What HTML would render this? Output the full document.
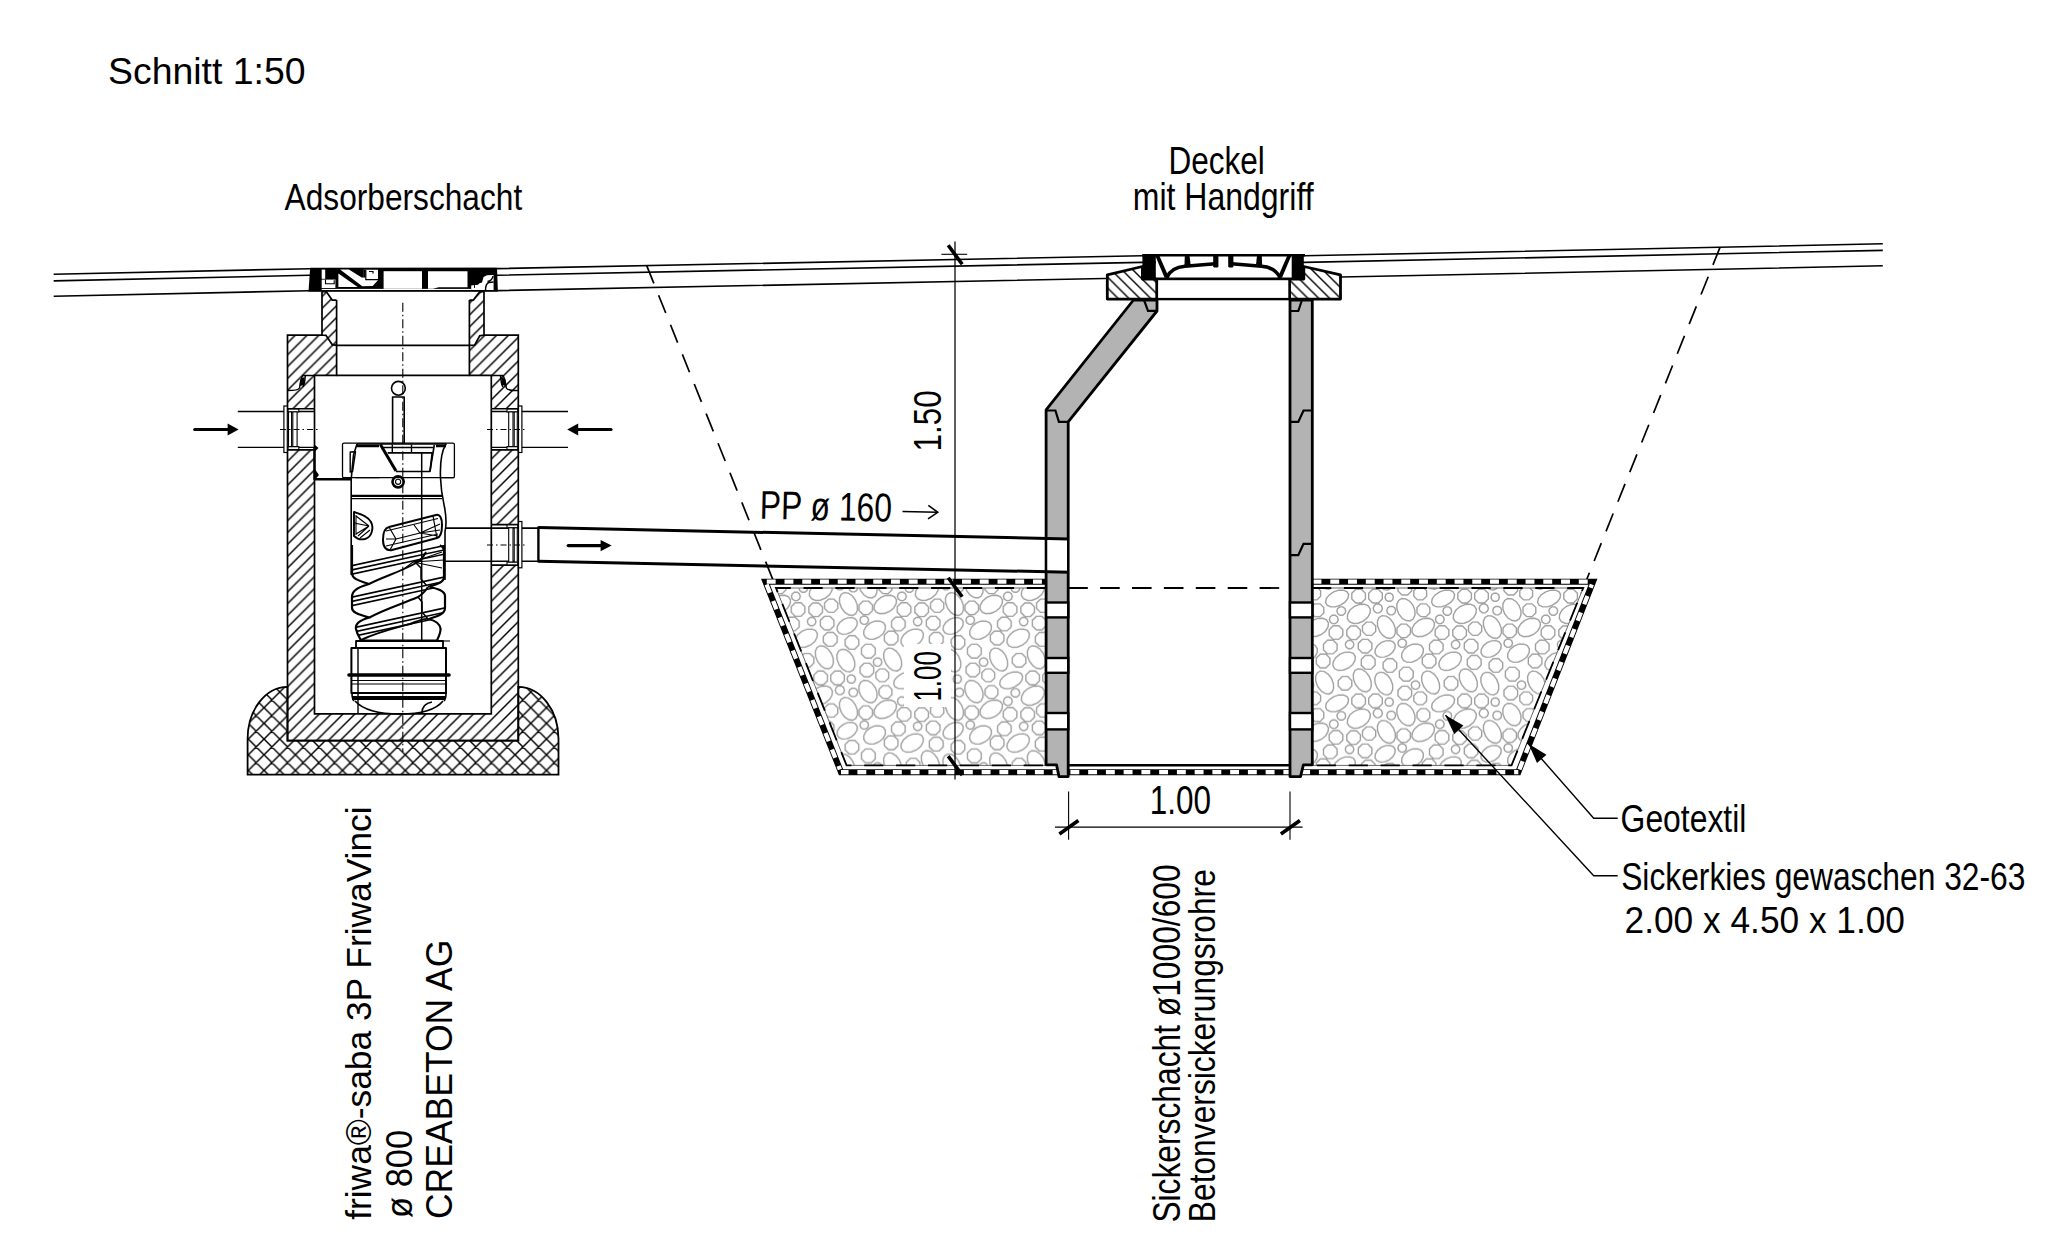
<!DOCTYPE html>
<html><head><meta charset="utf-8"><title>Schnitt 1:50</title>
<style>html,body{margin:0;padding:0;background:#fff;}svg{display:block;}text{font-family:"Liberation Sans",sans-serif;}</style>
</head><body>
<svg xmlns="http://www.w3.org/2000/svg" width="#fff" height="1255" viewBox="0 0 #fff 1255">
<rect width="#fff" height="1255" fill="#fff"/>
<defs>
<pattern id="h45" patternUnits="userSpaceOnUse" width="11.85" height="11.85" patternTransform="translate(2.4 0)"><path d="M-24.70,12.85 L1.00,-12.85 M-12.85,12.85 L12.85,-12.85 M-1.00,12.85 L24.70,-12.85 M10.85,12.85 L36.55,-12.85 " stroke="#000" stroke-width="1.45"/></pattern>
<pattern id="hx" patternUnits="userSpaceOnUse" width="15.69" height="15.69" patternTransform="translate(13.0 1.63)"><path d="M-32.38,16.69 L1.00,-16.69 M-32.38,-16.69 L1.00,16.69 M-16.69,16.69 L16.69,-16.69 M-16.69,-16.69 L16.69,16.69 M-1.00,16.69 L32.38,-16.69 M-1.00,-16.69 L32.38,16.69 M14.69,16.69 L48.07,-16.69 M14.69,-16.69 L48.07,16.69 " stroke="#000" stroke-width="1.4"/></pattern>
<pattern id="hb" patternUnits="userSpaceOnUse" width="10.84" height="10.84" patternTransform="translate(6.7 0)"><path d="M-22.68,-11.84 L1.00,11.84 M-11.84,-11.84 L11.84,11.84 M-1.00,-11.84 L22.68,11.84 M9.84,-11.84 L33.52,11.84 " stroke="#000" stroke-width="1.4"/></pattern>
<pattern id="hb2" patternUnits="userSpaceOnUse" width="10.84" height="10.84" patternTransform="translate(1.5 0)"><path d="M-22.68,-11.84 L1.00,11.84 M-11.84,-11.84 L11.84,11.84 M-1.00,-11.84 L22.68,11.84 M9.84,-11.84 L33.52,11.84 " stroke="#000" stroke-width="1.4"/></pattern>
</defs>
<g transform="rotate(1.26 759.6 518.8)">
<line x1="902.3" y1="508.4" x2="937.0" y2="508.4" stroke="#000" stroke-width="1.6" />
<path d="M928.0,501.6 L937.6,508.4 L928.0,515.2" fill="none" stroke="#000" stroke-width="1.6" />
</g>
<path d="M53.7,274.3 L309.0,268.7 L497.0,268.6 L1142.0,255.8 L1304.0,255.8 L1882.8,243.8" fill="none" stroke="#000" stroke-width="1.6" />
<path d="M53.7,280.9 L309.0,275.3 L497.0,275.2 L1142.0,262.4 L1304.0,262.4 L1882.8,250.4" fill="none" stroke="#000" stroke-width="1.6" />
<path d="M53.7,296.3 L309.0,290.7 L497.0,290.6 L1142.0,277.8 L1304.0,277.8 L1882.8,265.8" fill="none" stroke="#000" stroke-width="1.6" />
<line x1="646.7" y1="265.6" x2="773.0" y2="580.0" stroke="#000" stroke-width="1.7" stroke-dasharray="19.2 12.7"/>
<line x1="1720.1" y1="247.1" x2="1586.5" y2="580.0" stroke="#000" stroke-width="1.7" stroke-dasharray="19.2 12.7"/>
<defs><pattern id="kies" patternUnits="userSpaceOnUse" x="1315.0" y="590.0" width="106.0" height="104.8"><path d="M33.6,4.7 L32.9,8.4 L30.0,12.1 L25.5,15.1 L20.4,16.8 L15.6,16.8 L12.1,15.2 L10.6,12.3 L11.3,8.6 L14.2,4.9 L18.7,1.9 L23.8,0.2 L28.6,0.2 L32.1,1.8ZM33.6,109.5 L32.9,113.2 L30.0,116.9 L25.5,119.9 L20.4,121.6 L15.6,121.6 L12.1,120.0 L10.6,117.1 L11.3,113.4 L14.2,109.7 L18.7,106.7 L23.8,105.0 L28.6,105.0 L32.1,106.6ZM50.4,8.9 L46.4,12.9 L40.8,12.9 L36.8,8.9 L36.8,3.3 L40.8,-0.7 L46.4,-0.7 L50.4,3.3ZM50.4,113.7 L46.4,117.7 L40.8,117.7 L36.8,113.7 L36.8,108.1 L40.8,104.1 L46.4,104.1 L50.4,108.1ZM67.3,8.9 L63.3,12.9 L57.7,12.9 L53.7,8.9 L53.7,3.3 L57.7,-0.7 L63.3,-0.7 L67.3,3.3ZM67.3,113.7 L63.3,117.7 L57.7,117.7 L53.7,113.7 L53.7,108.1 L57.7,104.1 L63.3,104.1 L67.3,108.1ZM78.4,7.2 L77.6,9.7 L75.5,11.2 L72.9,11.2 L70.8,9.7 L70.0,7.2 L70.8,4.7 L72.9,3.2 L75.5,3.2 L77.6,4.7ZM5.6,6.2 L1.9,9.9 L-3.5,9.9 L-7.2,6.2 L-7.2,0.8 L-3.5,-2.9 L1.9,-2.9 L5.6,0.8ZM5.6,111.0 L1.9,114.7 L-3.5,114.7 L-7.2,111.0 L-7.2,105.6 L-3.5,101.9 L1.9,101.9 L5.6,105.6ZM111.6,6.2 L107.9,9.9 L102.5,9.9 L98.8,6.2 L98.8,0.8 L102.5,-2.9 L107.9,-2.9 L111.6,0.8ZM111.6,111.0 L107.9,114.7 L102.5,114.7 L98.8,111.0 L98.8,105.6 L102.5,101.9 L107.9,101.9 L111.6,105.6ZM8.8,22.9 L5.1,26.6 L-0.3,26.6 L-4.0,22.9 L-4.0,17.5 L-0.3,13.8 L5.1,13.8 L8.8,17.5ZM114.8,22.9 L111.1,26.6 L105.7,26.6 L102.0,22.9 L102.0,17.5 L105.7,13.8 L111.1,13.8 L114.8,17.5ZM55.3,19.2 L55.0,23.3 L52.6,27.6 L48.4,31.1 L43.3,33.2 L38.3,33.4 L34.4,31.7 L32.3,28.4 L32.6,24.3 L35.0,20.0 L39.2,16.5 L44.3,14.4 L49.3,14.2 L53.2,15.9ZM30.7,21.0 L29.9,23.6 L27.7,25.2 L24.9,25.2 L22.7,23.6 L21.9,21.0 L22.7,18.4 L24.9,16.8 L27.7,16.8 L29.9,18.4ZM67.4,18.4 L66.5,21.1 L64.2,22.8 L61.4,22.8 L59.1,21.1 L58.2,18.4 L59.1,15.7 L61.4,14.0 L64.2,14.0 L66.5,15.7ZM80.6,20.6 L79.8,23.2 L77.6,24.8 L74.8,24.8 L72.6,23.2 L71.8,20.6 L72.6,18.0 L74.8,16.4 L77.6,16.4 L79.8,18.0ZM95.0,30.9 L91.0,30.5 L86.9,28.0 L83.7,23.9 L81.9,18.9 L81.9,14.1 L83.6,10.4 L86.8,8.5 L90.8,8.9 L94.9,11.4 L98.1,15.5 L99.9,20.5 L99.9,25.3 L98.2,29.0ZM23.2,29.4 L22.4,32.0 L20.2,33.6 L17.4,33.6 L15.2,32.0 L14.4,29.4 L15.2,26.8 L17.4,25.2 L20.2,25.2 L22.4,26.8ZM13.4,32.8 L13.1,36.8 L10.7,40.9 L6.6,44.4 L1.6,46.4 L-3.3,46.6 L-7.0,45.1 L-9.0,42.0 L-8.7,38.0 L-6.3,33.9 L-2.2,30.4 L2.8,28.4 L7.7,28.2 L11.4,29.7ZM119.4,32.8 L119.1,36.8 L116.7,40.9 L112.6,44.4 L107.6,46.4 L102.7,46.6 L99.0,45.1 L97.0,42.0 L97.3,38.0 L99.7,33.9 L103.8,30.4 L108.8,28.4 L113.7,28.2 L117.4,29.7ZM27.8,45.3 L23.8,49.3 L18.2,49.3 L14.2,45.3 L14.2,39.7 L18.2,35.7 L23.8,35.7 L27.8,39.7ZM45.4,45.5 L41.4,49.5 L35.8,49.5 L31.8,45.5 L31.8,39.9 L35.8,35.9 L41.4,35.9 L45.4,39.9ZM60.7,41.4 L56.8,45.3 L51.4,45.3 L47.5,41.4 L47.5,36.0 L51.4,32.1 L56.8,32.1 L60.7,36.0ZM75.7,48.4 L71.7,47.9 L67.7,45.3 L64.5,41.0 L62.6,36.0 L62.4,31.1 L64.1,27.4 L67.1,25.6 L71.1,26.1 L75.1,28.7 L78.3,33.0 L80.2,38.0 L80.4,42.9 L78.7,46.6ZM95.4,43.6 L91.5,47.5 L85.9,47.5 L82.0,43.6 L82.0,38.0 L85.9,34.1 L91.5,34.1 L95.4,38.0ZM22.1,59.8 L18.1,63.8 L12.5,63.8 L8.5,59.8 L8.5,54.2 L12.5,50.2 L18.1,50.2 L22.1,54.2ZM38.9,54.5 L38.1,57.0 L35.9,58.6 L33.3,58.6 L31.1,57.0 L30.3,54.5 L31.1,52.0 L33.3,50.4 L35.9,50.4 L38.1,52.0ZM56.9,58.9 L52.9,62.9 L47.3,62.9 L43.3,58.9 L43.3,53.3 L47.3,49.3 L52.9,49.3 L56.9,53.3ZM80.2,54.8 L79.9,58.4 L77.7,62.1 L74.0,65.2 L69.5,67.0 L65.2,67.2 L61.8,65.8 L60.0,63.0 L60.3,59.4 L62.5,55.7 L66.2,52.6 L70.7,50.8 L75.0,50.6 L78.4,52.0ZM91.5,53.2 L90.7,55.7 L88.5,57.3 L85.9,57.3 L83.7,55.7 L82.9,53.2 L83.7,50.7 L85.9,49.1 L88.5,49.1 L90.7,50.7ZM2.3,58.7 L2.2,62.7 L-0.1,66.8 L-4.1,70.1 L-8.9,72.1 L-13.7,72.2 L-17.4,70.6 L-19.3,67.5 L-19.2,63.5 L-16.9,59.4 L-12.9,56.1 L-8.1,54.1 L-3.3,54.0 L0.4,55.6ZM108.3,58.7 L108.2,62.7 L105.9,66.8 L101.9,70.1 L97.1,72.1 L92.3,72.2 L88.6,70.6 L86.7,67.5 L86.8,63.5 L89.1,59.4 L93.1,56.1 L97.9,54.1 L102.7,54.0 L106.4,55.6ZM14.9,73.8 L10.9,77.8 L5.3,77.8 L1.3,73.8 L1.3,68.2 L5.3,64.2 L10.9,64.2 L14.9,68.2ZM120.9,73.8 L116.9,77.8 L111.3,77.8 L107.3,73.8 L107.3,68.2 L111.3,64.2 L116.9,64.2 L120.9,68.2ZM40.3,66.6 L40.0,70.5 L37.6,74.6 L33.4,78.1 L28.4,80.1 L23.5,80.4 L19.8,78.9 L17.9,75.8 L18.2,71.9 L20.6,67.8 L24.8,64.3 L29.8,62.3 L34.7,62.0 L38.4,63.5ZM60.1,75.2 L56.1,79.2 L50.3,79.2 L46.3,75.2 L46.3,69.4 L50.3,65.4 L56.1,65.4 L60.1,69.4ZM81.7,78.2 L77.7,82.2 L72.1,82.2 L68.1,78.2 L68.1,72.6 L72.1,68.6 L77.7,68.6 L81.7,72.6ZM98.2,87.0 L94.2,91.0 L88.4,91.0 L84.4,87.0 L84.4,81.2 L88.4,77.2 L94.2,77.2 L98.2,81.2ZM13.9,-0.8 L10.0,-1.3 L6.0,-4.0 L2.7,-8.3 L0.8,-13.4 L0.6,-18.3 L2.2,-22.0 L5.3,-23.8 L9.2,-23.3 L13.2,-20.6 L16.5,-16.3 L18.4,-11.2 L18.6,-6.3 L17.0,-2.6ZM13.9,104.0 L10.0,103.5 L6.0,100.8 L2.7,96.5 L0.8,91.4 L0.6,86.5 L2.2,82.8 L5.3,81.0 L9.2,81.5 L13.2,84.2 L16.5,88.5 L18.4,93.6 L18.6,98.5 L17.0,102.2ZM119.9,-0.8 L116.0,-1.3 L112.0,-4.0 L108.7,-8.3 L106.8,-13.4 L106.6,-18.3 L108.2,-22.0 L111.3,-23.8 L115.2,-23.3 L119.2,-20.6 L122.5,-16.3 L124.4,-11.2 L124.6,-6.3 L123.0,-2.6ZM119.9,104.0 L116.0,103.5 L112.0,100.8 L108.7,96.5 L106.8,91.4 L106.6,86.5 L108.2,82.8 L111.3,81.0 L115.2,81.5 L119.2,84.2 L122.5,88.5 L124.4,93.6 L124.6,98.5 L123.0,102.2ZM36.8,96.1 L32.8,100.1 L27.2,100.1 L23.2,96.1 L23.2,90.5 L27.2,86.5 L32.8,86.5 L36.8,90.5ZM51.6,101.8 L47.7,101.3 L43.7,98.6 L40.4,94.3 L38.5,89.2 L38.3,84.3 L39.9,80.6 L43.0,78.8 L46.9,79.3 L50.9,82.0 L54.2,86.3 L56.1,91.4 L56.3,96.3 L54.7,100.0ZM73.0,0.0 L69.1,-0.4 L65.1,-3.0 L61.9,-7.3 L60.0,-12.3 L59.9,-17.1 L61.5,-20.8 L64.6,-22.6 L68.5,-22.2 L72.5,-19.6 L75.7,-15.3 L77.6,-10.3 L77.7,-5.5 L76.1,-1.8ZM73.0,104.8 L69.1,104.4 L65.1,101.8 L61.9,97.5 L60.0,92.5 L59.9,87.7 L61.5,84.0 L64.6,82.2 L68.5,82.6 L72.5,85.2 L75.7,89.5 L77.6,94.5 L77.7,99.3 L76.1,103.0ZM-1.2,95.1 L-2.0,97.6 L-4.2,99.2 L-6.8,99.2 L-9.0,97.6 L-9.8,95.1 L-9.0,92.6 L-6.8,91.0 L-4.2,91.0 L-2.0,92.6ZM104.8,95.1 L104.0,97.6 L101.8,99.2 L99.2,99.2 L97.0,97.6 L96.2,95.1 L97.0,92.6 L99.2,91.0 L101.8,91.0 L104.0,92.6ZM96.6,1.0 L92.6,5.0 L87.0,5.0 L83.0,1.0 L83.0,-4.6 L87.0,-8.6 L92.6,-8.6 L96.6,-4.6ZM96.6,105.8 L92.6,109.8 L87.0,109.8 L83.0,105.8 L83.0,100.2 L87.0,96.2 L92.6,96.2 L96.6,100.2Z" fill="none" stroke="#a0a0a0" stroke-width="1.4"/></pattern><pattern id="kies2" patternUnits="userSpaceOnUse" x="1307.1" y="567.0" width="106.0" height="104.8"><path d="M33.6,4.7 L32.9,8.4 L30.0,12.1 L25.5,15.1 L20.4,16.8 L15.6,16.8 L12.1,15.2 L10.6,12.3 L11.3,8.6 L14.2,4.9 L18.7,1.9 L23.8,0.2 L28.6,0.2 L32.1,1.8ZM33.6,109.5 L32.9,113.2 L30.0,116.9 L25.5,119.9 L20.4,121.6 L15.6,121.6 L12.1,120.0 L10.6,117.1 L11.3,113.4 L14.2,109.7 L18.7,106.7 L23.8,105.0 L28.6,105.0 L32.1,106.6ZM50.4,8.9 L46.4,12.9 L40.8,12.9 L36.8,8.9 L36.8,3.3 L40.8,-0.7 L46.4,-0.7 L50.4,3.3ZM50.4,113.7 L46.4,117.7 L40.8,117.7 L36.8,113.7 L36.8,108.1 L40.8,104.1 L46.4,104.1 L50.4,108.1ZM67.3,8.9 L63.3,12.9 L57.7,12.9 L53.7,8.9 L53.7,3.3 L57.7,-0.7 L63.3,-0.7 L67.3,3.3ZM67.3,113.7 L63.3,117.7 L57.7,117.7 L53.7,113.7 L53.7,108.1 L57.7,104.1 L63.3,104.1 L67.3,108.1ZM78.4,7.2 L77.6,9.7 L75.5,11.2 L72.9,11.2 L70.8,9.7 L70.0,7.2 L70.8,4.7 L72.9,3.2 L75.5,3.2 L77.6,4.7ZM5.6,6.2 L1.9,9.9 L-3.5,9.9 L-7.2,6.2 L-7.2,0.8 L-3.5,-2.9 L1.9,-2.9 L5.6,0.8ZM5.6,111.0 L1.9,114.7 L-3.5,114.7 L-7.2,111.0 L-7.2,105.6 L-3.5,101.9 L1.9,101.9 L5.6,105.6ZM111.6,6.2 L107.9,9.9 L102.5,9.9 L98.8,6.2 L98.8,0.8 L102.5,-2.9 L107.9,-2.9 L111.6,0.8ZM111.6,111.0 L107.9,114.7 L102.5,114.7 L98.8,111.0 L98.8,105.6 L102.5,101.9 L107.9,101.9 L111.6,105.6ZM8.8,22.9 L5.1,26.6 L-0.3,26.6 L-4.0,22.9 L-4.0,17.5 L-0.3,13.8 L5.1,13.8 L8.8,17.5ZM114.8,22.9 L111.1,26.6 L105.7,26.6 L102.0,22.9 L102.0,17.5 L105.7,13.8 L111.1,13.8 L114.8,17.5ZM55.3,19.2 L55.0,23.3 L52.6,27.6 L48.4,31.1 L43.3,33.2 L38.3,33.4 L34.4,31.7 L32.3,28.4 L32.6,24.3 L35.0,20.0 L39.2,16.5 L44.3,14.4 L49.3,14.2 L53.2,15.9ZM30.7,21.0 L29.9,23.6 L27.7,25.2 L24.9,25.2 L22.7,23.6 L21.9,21.0 L22.7,18.4 L24.9,16.8 L27.7,16.8 L29.9,18.4ZM67.4,18.4 L66.5,21.1 L64.2,22.8 L61.4,22.8 L59.1,21.1 L58.2,18.4 L59.1,15.7 L61.4,14.0 L64.2,14.0 L66.5,15.7ZM80.6,20.6 L79.8,23.2 L77.6,24.8 L74.8,24.8 L72.6,23.2 L71.8,20.6 L72.6,18.0 L74.8,16.4 L77.6,16.4 L79.8,18.0ZM95.0,30.9 L91.0,30.5 L86.9,28.0 L83.7,23.9 L81.9,18.9 L81.9,14.1 L83.6,10.4 L86.8,8.5 L90.8,8.9 L94.9,11.4 L98.1,15.5 L99.9,20.5 L99.9,25.3 L98.2,29.0ZM23.2,29.4 L22.4,32.0 L20.2,33.6 L17.4,33.6 L15.2,32.0 L14.4,29.4 L15.2,26.8 L17.4,25.2 L20.2,25.2 L22.4,26.8ZM13.4,32.8 L13.1,36.8 L10.7,40.9 L6.6,44.4 L1.6,46.4 L-3.3,46.6 L-7.0,45.1 L-9.0,42.0 L-8.7,38.0 L-6.3,33.9 L-2.2,30.4 L2.8,28.4 L7.7,28.2 L11.4,29.7ZM119.4,32.8 L119.1,36.8 L116.7,40.9 L112.6,44.4 L107.6,46.4 L102.7,46.6 L99.0,45.1 L97.0,42.0 L97.3,38.0 L99.7,33.9 L103.8,30.4 L108.8,28.4 L113.7,28.2 L117.4,29.7ZM27.8,45.3 L23.8,49.3 L18.2,49.3 L14.2,45.3 L14.2,39.7 L18.2,35.7 L23.8,35.7 L27.8,39.7ZM45.4,45.5 L41.4,49.5 L35.8,49.5 L31.8,45.5 L31.8,39.9 L35.8,35.9 L41.4,35.9 L45.4,39.9ZM60.7,41.4 L56.8,45.3 L51.4,45.3 L47.5,41.4 L47.5,36.0 L51.4,32.1 L56.8,32.1 L60.7,36.0ZM75.7,48.4 L71.7,47.9 L67.7,45.3 L64.5,41.0 L62.6,36.0 L62.4,31.1 L64.1,27.4 L67.1,25.6 L71.1,26.1 L75.1,28.7 L78.3,33.0 L80.2,38.0 L80.4,42.9 L78.7,46.6ZM95.4,43.6 L91.5,47.5 L85.9,47.5 L82.0,43.6 L82.0,38.0 L85.9,34.1 L91.5,34.1 L95.4,38.0ZM22.1,59.8 L18.1,63.8 L12.5,63.8 L8.5,59.8 L8.5,54.2 L12.5,50.2 L18.1,50.2 L22.1,54.2ZM38.9,54.5 L38.1,57.0 L35.9,58.6 L33.3,58.6 L31.1,57.0 L30.3,54.5 L31.1,52.0 L33.3,50.4 L35.9,50.4 L38.1,52.0ZM56.9,58.9 L52.9,62.9 L47.3,62.9 L43.3,58.9 L43.3,53.3 L47.3,49.3 L52.9,49.3 L56.9,53.3ZM80.2,54.8 L79.9,58.4 L77.7,62.1 L74.0,65.2 L69.5,67.0 L65.2,67.2 L61.8,65.8 L60.0,63.0 L60.3,59.4 L62.5,55.7 L66.2,52.6 L70.7,50.8 L75.0,50.6 L78.4,52.0ZM91.5,53.2 L90.7,55.7 L88.5,57.3 L85.9,57.3 L83.7,55.7 L82.9,53.2 L83.7,50.7 L85.9,49.1 L88.5,49.1 L90.7,50.7ZM2.3,58.7 L2.2,62.7 L-0.1,66.8 L-4.1,70.1 L-8.9,72.1 L-13.7,72.2 L-17.4,70.6 L-19.3,67.5 L-19.2,63.5 L-16.9,59.4 L-12.9,56.1 L-8.1,54.1 L-3.3,54.0 L0.4,55.6ZM108.3,58.7 L108.2,62.7 L105.9,66.8 L101.9,70.1 L97.1,72.1 L92.3,72.2 L88.6,70.6 L86.7,67.5 L86.8,63.5 L89.1,59.4 L93.1,56.1 L97.9,54.1 L102.7,54.0 L106.4,55.6ZM14.9,73.8 L10.9,77.8 L5.3,77.8 L1.3,73.8 L1.3,68.2 L5.3,64.2 L10.9,64.2 L14.9,68.2ZM120.9,73.8 L116.9,77.8 L111.3,77.8 L107.3,73.8 L107.3,68.2 L111.3,64.2 L116.9,64.2 L120.9,68.2ZM40.3,66.6 L40.0,70.5 L37.6,74.6 L33.4,78.1 L28.4,80.1 L23.5,80.4 L19.8,78.9 L17.9,75.8 L18.2,71.9 L20.6,67.8 L24.8,64.3 L29.8,62.3 L34.7,62.0 L38.4,63.5ZM60.1,75.2 L56.1,79.2 L50.3,79.2 L46.3,75.2 L46.3,69.4 L50.3,65.4 L56.1,65.4 L60.1,69.4ZM81.7,78.2 L77.7,82.2 L72.1,82.2 L68.1,78.2 L68.1,72.6 L72.1,68.6 L77.7,68.6 L81.7,72.6ZM98.2,87.0 L94.2,91.0 L88.4,91.0 L84.4,87.0 L84.4,81.2 L88.4,77.2 L94.2,77.2 L98.2,81.2ZM13.9,-0.8 L10.0,-1.3 L6.0,-4.0 L2.7,-8.3 L0.8,-13.4 L0.6,-18.3 L2.2,-22.0 L5.3,-23.8 L9.2,-23.3 L13.2,-20.6 L16.5,-16.3 L18.4,-11.2 L18.6,-6.3 L17.0,-2.6ZM13.9,104.0 L10.0,103.5 L6.0,100.8 L2.7,96.5 L0.8,91.4 L0.6,86.5 L2.2,82.8 L5.3,81.0 L9.2,81.5 L13.2,84.2 L16.5,88.5 L18.4,93.6 L18.6,98.5 L17.0,102.2ZM119.9,-0.8 L116.0,-1.3 L112.0,-4.0 L108.7,-8.3 L106.8,-13.4 L106.6,-18.3 L108.2,-22.0 L111.3,-23.8 L115.2,-23.3 L119.2,-20.6 L122.5,-16.3 L124.4,-11.2 L124.6,-6.3 L123.0,-2.6ZM119.9,104.0 L116.0,103.5 L112.0,100.8 L108.7,96.5 L106.8,91.4 L106.6,86.5 L108.2,82.8 L111.3,81.0 L115.2,81.5 L119.2,84.2 L122.5,88.5 L124.4,93.6 L124.6,98.5 L123.0,102.2ZM36.8,96.1 L32.8,100.1 L27.2,100.1 L23.2,96.1 L23.2,90.5 L27.2,86.5 L32.8,86.5 L36.8,90.5ZM51.6,101.8 L47.7,101.3 L43.7,98.6 L40.4,94.3 L38.5,89.2 L38.3,84.3 L39.9,80.6 L43.0,78.8 L46.9,79.3 L50.9,82.0 L54.2,86.3 L56.1,91.4 L56.3,96.3 L54.7,100.0ZM73.0,0.0 L69.1,-0.4 L65.1,-3.0 L61.9,-7.3 L60.0,-12.3 L59.9,-17.1 L61.5,-20.8 L64.6,-22.6 L68.5,-22.2 L72.5,-19.6 L75.7,-15.3 L77.6,-10.3 L77.7,-5.5 L76.1,-1.8ZM73.0,104.8 L69.1,104.4 L65.1,101.8 L61.9,97.5 L60.0,92.5 L59.9,87.7 L61.5,84.0 L64.6,82.2 L68.5,82.6 L72.5,85.2 L75.7,89.5 L77.6,94.5 L77.7,99.3 L76.1,103.0ZM-1.2,95.1 L-2.0,97.6 L-4.2,99.2 L-6.8,99.2 L-9.0,97.6 L-9.8,95.1 L-9.0,92.6 L-6.8,91.0 L-4.2,91.0 L-2.0,92.6ZM104.8,95.1 L104.0,97.6 L101.8,99.2 L99.2,99.2 L97.0,97.6 L96.2,95.1 L97.0,92.6 L99.2,91.0 L101.8,91.0 L104.0,92.6ZM96.6,1.0 L92.6,5.0 L87.0,5.0 L83.0,1.0 L83.0,-4.6 L87.0,-8.6 L92.6,-8.6 L96.6,-4.6ZM96.6,105.8 L92.6,109.8 L87.0,109.8 L83.0,105.8 L83.0,100.2 L87.0,96.2 L92.6,96.2 L96.6,100.2Z" fill="none" stroke="#a0a0a0" stroke-width="1.4"/></pattern></defs>
<path d="M776,588 L1046,588 L1046,765.4 L846.6,765.4Z" fill="url(#kies2)" stroke="none"/>
<path d="M776,588 L1046,588 L1046,765.4 L846.6,765.4Z" fill="none" stroke="#666" stroke-width="1"/>
<path d="M1312,588 L1583.2,588 L1511.5,765.4 L1312,765.4Z" fill="url(#kies)" stroke="none"/>
<path d="M1312,588 L1583.2,588 L1511.5,765.4 L1312,765.4Z" fill="none" stroke="#666" stroke-width="1"/>
<rect x="904.0" y="644.0" width="47.0" height="63.0" fill="#fff" stroke="none" stroke-width="0" />
<path d="M1046.0,588.0 L776.0,588.0 L846.6,765.4 L1046.0,765.4" fill="none" stroke="#000" stroke-width="1.8" stroke-dasharray="19.2 12.7"/>
<path d="M1312.0,588.0 L1583.2,588.0 L1511.5,765.4 L1312.0,765.4" fill="none" stroke="#000" stroke-width="1.8" stroke-dasharray="19.2 12.7"/>
<path d="M1046.0,581.7 L765.5,581.7 L841.0,772.2 L1518.3,772.2 L1593.0,581.7 L1312.0,581.7" fill="none" stroke="#000" stroke-width="6.1" stroke-linejoin="miter"/>
<line x1="1046.0" y1="581.7" x2="765.5" y2="581.7" stroke="#fff" stroke-width="4.3" stroke-dasharray="8.9 8.85" stroke-dashoffset="13.65"/>
<line x1="766.6" y1="584.5" x2="839.9" y2="769.5" stroke="#fff" stroke-width="4.3" stroke-dasharray="8.9 8.85" stroke-dashoffset="0"/>
<line x1="841.0" y1="772.2" x2="1518.3" y2="772.2" stroke="#fff" stroke-width="4.3" stroke-dasharray="8.9 8.85" stroke-dashoffset="1.35"/>
<line x1="1519.4" y1="769.5" x2="1591.9" y2="584.5" stroke="#fff" stroke-width="4.3" stroke-dasharray="8.9 8.85" stroke-dashoffset="0"/>
<line x1="1312.0" y1="581.7" x2="1593.0" y2="581.7" stroke="#fff" stroke-width="4.3" stroke-dasharray="8.9 8.85" stroke-dashoffset="17.2"/>
<line x1="955.0" y1="241.4" x2="955.0" y2="779.5" stroke="#000" stroke-width="1.25" />
<line x1="941.4" y1="254.3" x2="967.2" y2="254.3" stroke="#000" stroke-width="1.1" />
<line x1="948.2" y1="245.3" x2="962.2" y2="264.3" stroke="#000" stroke-width="3.6" />
<line x1="948.2" y1="577.8" x2="962.2" y2="596.8" stroke="#000" stroke-width="3.6" />
<line x1="948.2" y1="756.1" x2="962.2" y2="775.1" stroke="#000" stroke-width="3.6" />
<path d="M1133.5,300.0 L1157.0,300.0 L1157.0,311.0 L1068.2,421.9 L1068.2,776.6 L1059.0,776.6 L1056.5,764.8 L1046.1,764.8 L1046.1,409.8 Z" fill="#b3b3b3" stroke="#000" stroke-width="2.8" stroke-linejoin="round"/>
<path d="M1290.0,300.0 L1312.3,300.0 L1312.3,764.8 L1303.4,764.8 L1300.5,776.6 L1290.0,776.6 Z" fill="#b3b3b3" stroke="#000" stroke-width="2.8" stroke-linejoin="round"/>
<path d="M1144.0,300.0 L1148.0,310.8 L1157.0,310.8" fill="none" stroke="#000" stroke-width="2.2" />
<path d="M1046.1,410.5 L1055.4,410.5 L1058.9,421.9 L1068.2,421.9" fill="none" stroke="#000" stroke-width="2.2" />
<path d="M1290.0,311.0 L1298.3,311.0 L1302.0,300.0" fill="none" stroke="#000" stroke-width="2.2" />
<path d="M1290.0,421.9 L1298.3,421.9 L1303.5,410.5 L1312.3,410.5" fill="none" stroke="#000" stroke-width="2.2" />
<path d="M1290.0,555.2 L1298.3,555.2 L1303.5,543.8 L1312.3,543.8" fill="none" stroke="#000" stroke-width="2.2" />
<rect x="1047.4" y="539.8" width="19.6" height="31.1" fill="#fff" stroke="none" stroke-width="0" />
<rect x="1046.1" y="602.5" width="22.1" height="14.9" fill="#fff" stroke="#000" stroke-width="2.4" />
<rect x="1290.0" y="602.5" width="22.3" height="14.9" fill="#fff" stroke="#000" stroke-width="2.4" />
<rect x="1046.1" y="658.0" width="22.1" height="14.8" fill="#fff" stroke="#000" stroke-width="2.4" />
<rect x="1290.0" y="658.0" width="22.3" height="14.8" fill="#fff" stroke="#000" stroke-width="2.4" />
<rect x="1046.1" y="713.0" width="22.1" height="16.4" fill="#fff" stroke="#000" stroke-width="2.4" />
<rect x="1290.0" y="713.0" width="22.3" height="16.4" fill="#fff" stroke="#000" stroke-width="2.4" />
<line x1="1068.2" y1="765.2" x2="1290.0" y2="765.2" stroke="#000" stroke-width="2.6" />
<line x1="1068.2" y1="588.0" x2="1290.0" y2="588.0" stroke="#000" stroke-width="1.8" stroke-dasharray="19.6 12.3"/>
<path d="M1107.3,274.8 L1142.4,266.5 L1142.4,279.0 L1156.9,279.0 L1156.9,299.1 L1107.3,299.1 Z" fill="#fff" stroke="none" stroke-width="0" />
<path d="M1107.3,274.8 L1142.4,266.5 L1142.4,279.0 L1156.9,279.0 L1156.9,299.1 L1107.3,299.1 Z" fill="url(#hb)" stroke="#000" stroke-width="2.8" stroke-linejoin="round"/>
<path d="M1340.5,274.8 L1303.8,266.5 L1303.8,279.0 L1289.5,279.0 L1289.5,299.1 L1340.5,299.1 Z" fill="#fff" stroke="none" stroke-width="0" />
<path d="M1340.5,274.8 L1303.8,266.5 L1303.8,279.0 L1289.5,279.0 L1289.5,299.1 L1340.5,299.1 Z" fill="url(#hb2)" stroke="#000" stroke-width="2.8" stroke-linejoin="round"/>
<rect x="1156.9" y="279.0" width="132.6" height="20.1" fill="#fff" stroke="#000" stroke-width="2.4" />
<rect x="1156.0" y="256.0" width="136.0" height="22.6" fill="#fff" stroke="none" stroke-width="0" />
<line x1="1142.4" y1="255.2" x2="1305.0" y2="255.2" stroke="#000" stroke-width="2.4" />
<line x1="1155.0" y1="278.6" x2="1292.0" y2="278.6" stroke="#000" stroke-width="2" />
<rect x="1142.4" y="254.2" width="13.4" height="24.8" fill="#000" stroke="none" stroke-width="0" />
<rect x="1291.7" y="254.2" width="12.1" height="24.8" fill="#000" stroke="none" stroke-width="0" />
<path d="M1155.4,256.0 L1159.5,256.0 L1169.0,277.8 L1164.6,277.8 Z" fill="#000" stroke="none" stroke-width="0" />
<path d="M1184.8,256.0 L1189.6,256.0 L1190.8,266.2 L1184.4,266.8 Z" fill="#000" stroke="none" stroke-width="0" />
<path d="M1213.2,256.0 L1218.4,256.0 L1218.4,266.5 L1217.6,267.6 L1214.0,267.6 L1213.2,266.5 Z" fill="#000" stroke="none" stroke-width="0" />
<path d="M1166.6,277.8 C1170.0,270 1176.0,267 1185.0,266.3 L1215.0,263.8" fill="none" stroke="#000" stroke-width="3.6"/>
<path d="M1291.2,256.0 L1287.1,256.0 L1277.6,277.8 L1282.0,277.8 Z" fill="#000" stroke="none" stroke-width="0" />
<path d="M1261.8,256.0 L1257.0,256.0 L1255.8,266.2 L1262.2,266.8 Z" fill="#000" stroke="none" stroke-width="0" />
<path d="M1233.4,256.0 L1228.2,256.0 L1228.2,266.5 L1229.0,267.6 L1232.6,267.6 L1233.4,266.5 Z" fill="#000" stroke="none" stroke-width="0" />
<path d="M1280.0,277.8 C1276.6,270 1270.6,267 1261.6,266.3 L1231.6,263.8" fill="none" stroke="#000" stroke-width="3.6"/>
<line x1="538.4" y1="527.6" x2="1069.0" y2="538.9" stroke="#000" stroke-width="3" />
<line x1="538.4" y1="561.3" x2="1069.0" y2="572.2" stroke="#000" stroke-width="3" />
<line x1="538.4" y1="526.5" x2="538.4" y2="562.4" stroke="#000" stroke-width="2.4" />
<line x1="568.2" y1="545.6" x2="601.0" y2="545.6" stroke="#000" stroke-width="3.2" stroke-linecap="round"/>
<path d="M611.6,545.6 L600.6,551.2 L600.6,540.0 Z" fill="#000" stroke="none" stroke-width="0" />
<line x1="1068.6" y1="791.5" x2="1068.6" y2="839.8" stroke="#000" stroke-width="1.1" />
<line x1="1290.0" y1="791.5" x2="1290.0" y2="839.8" stroke="#000" stroke-width="1.1" />
<line x1="1055.0" y1="827.2" x2="1302.6" y2="827.2" stroke="#000" stroke-width="1.2" />
<line x1="1059.4" y1="834.0" x2="1078.4" y2="820.5" stroke="#000" stroke-width="3.6" />
<line x1="1280.9" y1="834.0" x2="1299.9" y2="820.5" stroke="#000" stroke-width="3.6" />
<path d="M1528.5,744.0 L1593.7,818.3 L1617.7,818.3" fill="none" stroke="#000" stroke-width="1.4" />
<path d="M1528.5,743.8 L1546.4,754.7 L1537.0,763.0 Z" fill="#000" stroke="none" stroke-width="0" />
<path d="M1445.5,715.3 L1593.7,875.8 L1617.7,875.8" fill="none" stroke="#000" stroke-width="1.4" />
<path d="M1445.2,715.1 L1463.4,725.6 L1454.2,734.0 Z" fill="#000" stroke="none" stroke-width="0" />
<path d="M287.5,686.8 A39.9,52.2 0 0 0 247.6,739 L247.6,774.7 L558.5,774.7 L558.5,739 A40.2,52.2 0 0 0 518.3,686.8 L518.3,740.6 L287.5,740.6 Z" fill="url(#hx)" stroke="#000" stroke-width="1.8"/>
<path d="M322,291.3 L326.4,291.8 L332.2,300.1 L336.6,300.1 L336.6,375.4 L314.5,375.4 L314.5,713.9 L491.3,713.9 L491.3,375.4 L469.4,375.4 L469.4,300.1 L473.3,300.1 L479.7,291.8 L484,291.3 L484,335.2 L518.3,335.2 L518.3,740.6 L287.5,740.6 L287.5,335.2 L322,335.2 Z" fill="url(#h45)" stroke="none"/>
<rect x="287.5" y="408.8" width="27.0" height="41.1" fill="#fff" stroke="none" stroke-width="0" />
<rect x="491.3" y="408.8" width="27.0" height="41.1" fill="#fff" stroke="none" stroke-width="0" />
<rect x="491.3" y="524.6" width="27.0" height="40.6" fill="#fff" stroke="none" stroke-width="0" />
<path d="M322,291.3 L322,335.2 L287.5,335.2 L287.5,408.75 M287.5,449.8 L287.5,740.6 L518.3,740.6 L518.3,565.2 M518.3,524.6 L518.3,449.8 M518.3,408.75 L518.3,335.2 L484,335.2 L484,291.3 M336.6,300 L336.6,375.4 L314.5,375.4 L314.5,408.75 M314.5,449.8 L314.5,713.9 L491.3,713.9 L491.3,565.2 M491.3,524.6 L491.3,449.8 M491.3,408.75 L491.3,375.4 L469.4,375.4 L469.4,300 M336.6,345.3 L469.4,345.3 M322,291.3 L326.4,291.8 L332.2,300.1 L336.6,300.1 M484,291.3 L479.7,291.8 L473.3,300.1 L469.4,300.1 M322,335 L325.9,335.3 L332.2,344.6 L336.6,345.3 M484,335 L479.7,335.8 L474.8,345 L469.4,345.3 M287.5,408.75 L314.5,408.75 M287.5,449.8 L314.5,449.8 M491.3,408.75 L518.3,408.75 M491.3,449.8 L518.3,449.8 M491.3,524.6 L518.3,524.6 M491.3,565.2 L518.3,565.2" fill="none" stroke="#000" stroke-width="1.7"/>
<path d="M314.5,375.4 L303,375.4 C301,378 300,384 299.5,388 C298.5,390 296,390.6 287.5,390.6 M305.3,375.8 C305,380 304.5,384 303,387 M491.3,375.4 L502.8,375.4 C504.8,378 505.8,384 506.3,388 C507.3,390 509.8,390.6 518.3,390.6 M500.5,375.8 C500.8,380 501.3,384 502.8,387" fill="none" stroke="#000" stroke-width="1.5"/>
<path d="M300.5,379 L304.5,377 L304,385 L300,386 Z M505.3,379 L501.3,377 L501.8,385 L505.8,386 Z" fill="#000"/>
<line x1="237.8" y1="411.5" x2="314.5" y2="411.5" stroke="#000" stroke-width="1.4" />
<line x1="237.8" y1="447.4" x2="314.5" y2="447.4" stroke="#000" stroke-width="1.4" />
<line x1="491.3" y1="411.5" x2="568.0" y2="411.5" stroke="#000" stroke-width="1.4" />
<line x1="491.3" y1="447.4" x2="568.0" y2="447.4" stroke="#000" stroke-width="1.4" />
<rect x="283.9" y="406.0" width="3.4" height="46.5" fill="#fff" stroke="#000" stroke-width="1.2" />
<rect x="288.1" y="409.1" width="10.7" height="2.9" fill="#fff" stroke="#000" stroke-width="1.1" />
<rect x="288.1" y="446.6" width="10.7" height="2.9" fill="#fff" stroke="#000" stroke-width="1.1" />
<rect x="288.5" y="411.9" width="3.1" height="34.7" fill="#fff" stroke="#000" stroke-width="1.1" />
<rect x="292.8" y="411.9" width="4.3" height="34.7" fill="#fff" stroke="#000" stroke-width="1.1" />
<rect x="518.5" y="406.0" width="3.4" height="46.5" fill="#fff" stroke="#000" stroke-width="1.2" />
<rect x="507.0" y="409.1" width="10.7" height="2.9" fill="#fff" stroke="#000" stroke-width="1.1" />
<rect x="507.0" y="446.6" width="10.7" height="2.9" fill="#fff" stroke="#000" stroke-width="1.1" />
<rect x="514.2" y="411.9" width="3.1" height="34.7" fill="#fff" stroke="#000" stroke-width="1.1" />
<rect x="508.7" y="411.9" width="4.3" height="34.7" fill="#fff" stroke="#000" stroke-width="1.1" />
<line x1="280.0" y1="429.5" x2="319.0" y2="429.5" stroke="#000" stroke-width="1.2" stroke-dasharray="6 3 1.5 3"/>
<line x1="487.0" y1="429.5" x2="526.0" y2="429.5" stroke="#000" stroke-width="1.2" stroke-dasharray="6 3 1.5 3"/>
<line x1="194.8" y1="429.5" x2="228.5" y2="429.5" stroke="#000" stroke-width="3.2" stroke-linecap="round"/>
<path d="M238.6,429.5 L227.6,435.4 L227.6,423.6 Z" fill="#000" stroke="none" stroke-width="0" />
<line x1="577.5" y1="429.5" x2="611.0" y2="429.5" stroke="#000" stroke-width="3.2" stroke-linecap="round"/>
<path d="M567.2,429.5 L578.2,423.6 L578.2,435.4 Z" fill="#000" stroke="none" stroke-width="0" />
<path d="M314.5,444.5 L318.5,448 L314.5,452 Z" fill="#000"/>
<line x1="314.5" y1="408.8" x2="314.5" y2="449.8" stroke="#000" stroke-width="1.7" />
<line x1="491.3" y1="408.8" x2="491.3" y2="449.8" stroke="#000" stroke-width="1.7" />
<line x1="491.3" y1="524.6" x2="491.3" y2="565.2" stroke="#000" stroke-width="1.7" />
<line x1="444.2" y1="528.1" x2="538.4" y2="528.1" stroke="#000" stroke-width="1.6" />
<line x1="444.2" y1="561.3" x2="538.4" y2="561.3" stroke="#000" stroke-width="1.6" />
<rect x="518.5" y="521.5" width="3.4" height="46.3" fill="#fff" stroke="#000" stroke-width="1.2" />
<rect x="507.0" y="524.9" width="10.7" height="2.9" fill="#fff" stroke="#000" stroke-width="1.1" />
<rect x="507.0" y="562.0" width="10.7" height="2.9" fill="#fff" stroke="#000" stroke-width="1.1" />
<rect x="514.2" y="527.8" width="3.1" height="34.2" fill="#fff" stroke="#000" stroke-width="1.1" />
<rect x="508.7" y="527.8" width="4.3" height="34.2" fill="#fff" stroke="#000" stroke-width="1.1" />
<line x1="487.0" y1="545.0" x2="526.0" y2="545.0" stroke="#000" stroke-width="1.2" stroke-dasharray="6 3 1.5 3"/>
<path d="M310.2,267.8 L497.0,267.8 L497.9,291.3 L308.5,291.3 Z" fill="#000" stroke="none" stroke-width="0" />
<rect x="321.7" y="269.6" width="3.5" height="9.2" fill="#fff" stroke="none" stroke-width="0" />
<rect x="321.7" y="279.6" width="13.7" height="8.4" fill="#fff" stroke="none" stroke-width="0" />
<path d="M325.5,279.6 L325.5,283.8 L334.2,283.8 L334.2,280.3" fill="none" stroke="#000" stroke-width="1.1"/>
<path d="M338.4,273.4 L338.4,287.1 L357.7,287.1 Z" fill="#fff" stroke="none" stroke-width="0" />
<path d="M340.1,269.5 L348.9,269.5 L361.7,277.5 L363.8,277.5 L363.8,269.7 L378.0,269.7 L378.0,280.3 L376.8,281.5 L372.7,286.0 L362.3,286.2 Z" fill="#fff" stroke="none" stroke-width="0" />
<path d="M363.8,269.7 L365.5,269.7 L365.5,277.0 L363.8,278.0 Z" fill="#000" stroke="none" stroke-width="0" />
<path d="M365.8,269.7 L365.8,279.6 L378,279.6 M369,271.5 L373,271.5 L373,273.5" fill="none" stroke="#000" stroke-width="1.2"/>
<rect x="383.6" y="271.2" width="38.4" height="17.6" fill="#fff" stroke="none" stroke-width="0" />
<path d="M428.0,271.2 L467.5,271.2 L467.5,287.3 L438.7,287.3 L433.0,288.8 L428.0,288.8 Z" fill="#fff" stroke="none" stroke-width="0" />
<rect x="321.7" y="288.9" width="149.3" height="1.2" fill="#fff" stroke="none" stroke-width="0" />
<path d="M471.2,290.1 L471.2,285.6 L474.5,284.9 L478.0,284.7 L479.5,283.2 L482.0,282.6 L483.5,277.0 L487.0,275.3 L493.6,275.0 L493.6,290.1 Z" fill="#fff" stroke="none" stroke-width="0" />
<path d="M485.5,290.5 C485.5,286 486,283.5 489,282.5 L493.6,282 M487.5,281.5 C490.5,281 492.5,279 493,276" fill="none" stroke="#000" stroke-width="1.5"/>
<path d="M474.5,284.5 L474.5,288 M476,284.5 L478,283" fill="none" stroke="#000" stroke-width="0.9"/>
<line x1="308.5" y1="290.8" x2="497.9" y2="290.8" stroke="#000" stroke-width="1.3" />
<g fill="none" stroke="#000" stroke-width="1.6" stroke-linejoin="round">
<circle cx="398.4" cy="388.3" r="6.9" fill="#fff"/>
<rect x="392.6" y="397" width="11.6" height="46.6" fill="#fff"/>
<rect x="342.5" y="443.1" width="111.9" height="34.6" rx="1.5" fill="#fff" stroke-width="1.3"/>
<path d="M357,444 L353.5,455 L352,470 L351.2,480 L351.2,575 M357,444 L446,444 C441,452 440,465 440.5,478 C441,492 443,500 444.5,507 C446,515 446.5,525 445,532 L445,580" fill="#fff"/>
<path d="M350.2,472 L350.2,452 L355.5,451.8 L352.6,471.5 Z" stroke-width="1.4"/>
<path d="M357,446 L379,446 M436,446 L446,446" stroke-width="2.6"/>
<path d="M387.7,452.8 L432.2,452.8 L430,471.5 L396,471.5" stroke-width="1.7"/><path d="M380.4,444.5 L396,471" stroke-width="3"/><path d="M434.3,445 L430,471" stroke-width="1.6"/>
<path d="M392.3,444.5 L392.3,452.5 M411.5,444.5 L411.5,452.5 M381,447.5 L433,447.5" stroke-width="1.4"/>
<circle cx="398.1" cy="481.8" r="5.6" fill="#fff" stroke-width="2.6"/><circle cx="398.1" cy="481.8" r="2.6" stroke-width="1.1"/>
<path d="M351.2,495.9 L442,495.9" stroke-width="2.2"/><path d="M351.2,498.6 L442,498.6" stroke-width="1.1"/>
<path d="M314.5,447 L314.5,479.3 L351,479.3" stroke-width="2.4"/>
<path d="M314.5,470 L318,475 L314.5,479" fill="#000"/>
<path d="M354,512 C360,514 368,516 371,522 C374,528 372,537 365,539 C361,540 357,539 354,536 Z" fill="#fff" stroke-width="1.9"/>
<path d="M356,515 L356,535 M354,523 L369,526 M356,516 L369,526 M356,534 L369,526 M358,536 L369,526 M360,538 L370,530" stroke-width="1.1"/>
<clipPath id="csil"><path d="M352,545 L352,573 C352,578 356,580 369,584 C356,588 352,591 352,597 L352,608 C352,612 357,614 369.5,617.5 C360,620 355,624 356,629 C357,634 359,637 361,640.5 L437,640.5 C439,636 441,632 440.5,628.5 C440,624 436,621 429,619 C438,616 445,614 445,608 L445,596 C445,591 438,589 429,586.5 C438,584 444,582 444,577 L444,545 Z"/></clipPath>
<path d="M352,545 L352,573 C352,578 356,580 369,584 C356,588 352,591 352,597 L352,608 C352,612 357,614 369.5,617.5 C360,620 355,624 356,629 C357,634 359,637 361,640.5 L437,640.5 C439,636 441,632 440.5,628.5 C440,624 436,621 429,619 C438,616 445,614 445,608 L445,596 C445,591 438,589 429,586.5 C438,584 444,582 444,577 L444,545 Z" fill="#fff" stroke="none"/>
<path d="M350,566.0 L447,545.0 M350,570.3 L447,549.3 M350,574.6 L447,553.6 M350,597.5 L447,576.5 M350,601.8 L447,580.8 M350,606.1 L447,585.1 M350,628.5 L447,607.5 M350,632.8 L447,611.8 M350,637.1 L447,616.1 " clip-path="url(#csil)" stroke-width="1.6"/>
<path d="M369,584 C385,576 400,572 416,563 C420,561 424,556 426,552 M369.5,617.5 C385,609 402,604 418,597 C423,594 426,590 428,587 M361,640 C378,632 395,628 410,624 C418,621 424,618 428,619" stroke-width="2"/>
<path d="M413,562 L442,552 M413,562 L444,560 M413,562 L442,568 M404,569 L413,562" stroke-width="1.2"/>
<path d="M416,563 L421,568 L421,579 L427,586 M418,597 L422,602 L422,612 L428,619" stroke-width="1.5"/>
<path d="M352,545 L352,573 C352,578 356,580 369,584 C356,588 352,591 352,597 L352,608 C352,612 357,614 369.5,617.5 C360,620 355,624 356,629 C357,634 359,637 361,640.5 L437,640.5 C439,636 441,632 440.5,628.5 C440,624 436,621 429,619 C438,616 445,614 445,608 L445,596 C445,591 438,589 429,586.5 C438,584 444,582 444,577 L444,545" stroke-width="2.2"/>
<path d="M440,545 C444,548 445,552 444,556" stroke-width="1.6"/>
<rect x="356" y="641" width="87" height="7" fill="#fff" stroke-width="1.8"/>
<path d="M443,641 L450,641" stroke-width="1.1"/>
<path d="M351.4,648 L446,648 L446,693 L351.4,693 Z" fill="#fff" stroke-width="2"/>
<path d="M358,648 L358,713" stroke-width="1.4"/>
<path d="M349,675 L449,675" stroke-width="3.6" stroke-linecap="round"/>
<path d="M351.4,680.5 L446,680.5 M351.4,684 L446,684" stroke-width="1.2"/>
<path d="M352,698 L445,698" stroke-width="4"/>
<path d="M352,693 C352,697 353,700 354,701 M446,693 C446,697 445,700 444,701 M355,701 C365,712 385,714 400,714 C418,714 435,711 443,701" stroke-width="1.6"/>
<path d="M422,713 C422,707 426,703 432,702" stroke-width="1.6"/>
<path d="M389,527 C384,528 383,533 383,540 C383,547 386,551 392,550 L437,538 C441,537 442,532 442,525 C442,518 440,514 436,515 Z" fill="#fff" stroke-width="2"/>
<path d="M386,531 L438,518.5 M386,546 L438,534 M389,527 L396,539 L390,550 M396,539 L420,533 L440,524 M420,533 L440,530 M420,533 L438,536 M420,533 L414,525 M433,516 L437,538 M386,539 L396,539" stroke-width="1.2"/>
<path d="M421.7,452.8 L421.7,641" stroke-width="1.5"/>
<path d="M342.5,477.7 L454.4,477.7" stroke-width="1.3"/>
</g>
<line x1="402.8" y1="302.7" x2="402.8" y2="752.0" stroke="#000" stroke-width="1.1" stroke-dasharray="9 3 1.5 3"/>
<line x1="336.6" y1="375.4" x2="469.4" y2="375.4" stroke="#000" stroke-width="1.6" />
<g fill="#000"><text x="108.0" y="84.0" font-size="36.7" text-anchor="start" textLength="197.6" lengthAdjust="spacingAndGlyphs" >Schnitt 1:50</text>
<text x="284.6" y="210.2" font-size="36.64" text-anchor="start" textLength="237.6" lengthAdjust="spacingAndGlyphs" >Adsorberschacht</text>
<text x="1168.4" y="174.3" font-size="38.0" text-anchor="start" textLength="96.4" lengthAdjust="spacingAndGlyphs" >Deckel</text>
<text x="1132.8" y="210.0" font-size="38.7" text-anchor="start" textLength="180.8" lengthAdjust="spacingAndGlyphs" >mit Handgriff</text>
<text x="759.6" y="518.8" font-size="40.21" text-anchor="start" textLength="132.2" lengthAdjust="spacingAndGlyphs" transform="rotate(1.26 759.60 518.80)">PP ø 160</text>
<text x="1620.6" y="832.4" font-size="38.01" text-anchor="start" textLength="125.8" lengthAdjust="spacingAndGlyphs" >Geotextil</text>
<text x="1621.2" y="890.3" font-size="38.0" text-anchor="start" textLength="404.2" lengthAdjust="spacingAndGlyphs" >Sickerkies gewaschen 32-63</text>
<text x="1624.6" y="932.6" font-size="36.09" text-anchor="start" textLength="280.4" lengthAdjust="spacingAndGlyphs" >2.00 x 4.50 x 1.00</text>
<text x="1149.8" y="813.5" font-size="40.68" text-anchor="start" textLength="61.2" lengthAdjust="spacingAndGlyphs" >1.00</text>
<text x="941.4" y="451.4" font-size="39.22" text-anchor="start" textLength="61.0" lengthAdjust="spacingAndGlyphs" transform="rotate(-90 941.4 451.4)" >1.50</text>
<text x="941.4" y="701.6" font-size="39.22" text-anchor="start" textLength="50.4" lengthAdjust="spacingAndGlyphs" transform="rotate(-90 941.4 701.6)" >1.00</text>
<text x="371.0" y="1219.8" font-size="35.15" text-anchor="start" textLength="413.4" lengthAdjust="spacingAndGlyphs" transform="rotate(-90 371.0 1219.8)" >friwa®-saba 3P FriwaVinci</text>
<text x="412.3" y="1218.0" font-size="37.2" text-anchor="start" textLength="88.2" lengthAdjust="spacingAndGlyphs" transform="rotate(-90 412.3 1218.0)" >ø 800</text>
<text x="452.1" y="1219.0" font-size="36.5" text-anchor="start" textLength="279.4" lengthAdjust="spacingAndGlyphs" transform="rotate(-90 452.1 1219.0)" >CREABETON AG</text>
<text x="1179.6" y="1222.6" font-size="38.82" text-anchor="start" textLength="358.2" lengthAdjust="spacingAndGlyphs" transform="rotate(-90 1179.6 1222.6)" >Sickerschacht ø1000/600</text>
<text x="1215.3" y="1222.2" font-size="37.32" text-anchor="start" textLength="353.0" lengthAdjust="spacingAndGlyphs" transform="rotate(-90 1215.3 1222.2)" >Betonversickerungsrohre</text></g>
</svg>
</body></html>
